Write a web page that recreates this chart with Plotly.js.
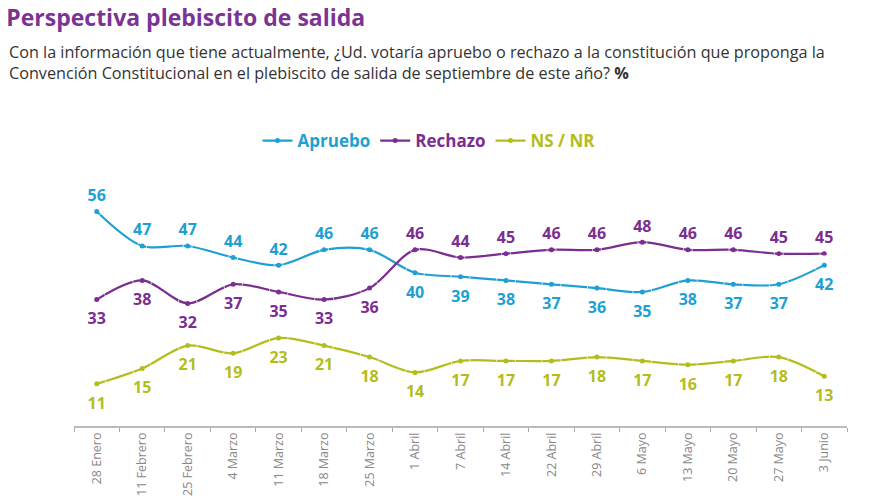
<!DOCTYPE html>
<html><head><meta charset="utf-8">
<script src="https://cdn.plot.ly/plotly-3.0.1.min.js"></script>
<style>html,body{margin:0;padding:0;background:#fff}#chart{width:894px;height:501px}</style>
</head><body><div id="chart"></div>
<script>
const categories = ["28 Enero","11 Febrero","25 Febrero","4 Marzo","11 Marzo","18 Marzo","25 Marzo","1 Abril","7 Abril","14 Abril","22 Abril","29 Abril","6 Mayo","13 Mayo","20 Mayo","27 Mayo","3 Junio"];
const apruebo = [56,47,47,44,42,46,46,40,39,38,37,36,35,38,37,37,42];
const rechazo = [33,38,32,37,35,33,36,46,44,45,46,46,48,46,46,45,45];
const nsnr    = [11,15,21,19,23,21,18,14,17,17,17,18,17,16,17,18,13];
const aprueboPos = ["top center","top center","top center","top center","top center","top center","top center","bottom center","bottom center","bottom center","bottom center","bottom center","bottom center","bottom center","bottom center","bottom center","bottom center"];
const rechazoPos = ["bottom center","bottom center","bottom center","bottom center","bottom center","bottom center","bottom center","top center","top center","top center","top center","top center","top center","top center","top center","top center","top center"];
const nsPos = categories.map(()=> "bottom center");

const cA = "#1ea0d2", cR = "#7b2e8f", cN = "#b3bd1b";
function tr(name, y, col){
  return {
    type:"scatter", mode:"lines+markers", x:categories, y:y,
    name:'<b><span style="color:'+col+'">'+name+'</span></b>',
    line:{color:col, width:2.2, shape:"spline", smoothing:0.9},
    marker:{color:col, size:5},
    cliponaxis:false, hoverinfo:"skip"
  };
}
function lab(y, col, pos){
  return {
    type:"scatter", mode:"markers+text", x:categories, y:y, showlegend:false,
    marker:{color:"rgba(0,0,0,0)", size:pos.map(p => p.indexOf("top")===0 ? 9 : 19)},
    text:y.map(String), textposition:pos,
    textfont:{color:col, size:16, family:"Open Sans", weight:700},
    cliponaxis:false, hoverinfo:"skip"
  };
}
const data = [
  tr("Apruebo", apruebo, cA), tr("Rechazo", rechazo, cR), tr("NS / NR", nsnr, cN),
  lab(apruebo, cA, aprueboPos), lab(rechazo, cR, rechazoPos), lab(nsnr, cN, nsPos)
];

const layout = {
  width:894, height:501,
  paper_bgcolor:"#fff", plot_bgcolor:"#fff",
  margin:{l:74, r:47, t:170, b:75},
  font:{family:"Open Sans", color:"#333"},
  title:{text:"<b>Perspectiva plebiscito de salida</b>", x:0.007, xref:"container", xanchor:"left", y:0.98, yref:"container", yanchor:"top",
         font:{size:23, color:"#7b3394", family:"Open Sans"}},
  annotations:[{
    text:"Con la información que tiene actualmente, ¿Ud. votaría apruebo o rechazo a la constitución que proponga la<br>Convención Constitucional en el plebiscito de salida de septiembre de este año? <b>%</b>",
    xref:"paper", yref:"paper", x:-67/773, y:(426-39)/256, xanchor:"left", yanchor:"top", align:"left", showarrow:false,
    font:{size:16.2, color:"#333", family:"Open Sans"}
  }],
  showlegend:true,
  legend:{orientation:"h", x:(429-74)/773, xanchor:"center", y:(426-141)/256, yanchor:"middle",
          font:{size:17, family:"Open Sans"}, itemwidth:30, tracegroupgap:0, bgcolor:"rgba(0,0,0,0)"},
  xaxis:{type:"category", tickson:"boundaries", ticks:"outside", ticklen:4, tickcolor:"#aaa",
         showline:true, linecolor:"#bbb", linewidth:1.5, showgrid:false, zeroline:false,
         tickangle:-90, tickfont:{size:12.5, color:"#888", family:"Open Sans"}, range:[-0.5,16.5], fixedrange:true},
  yaxis:{range:[0,(426-170)/3.83], visible:false, showgrid:false, zeroline:false, fixedrange:true}
};
Plotly.newPlot("chart", data, layout, {displayModeBar:false, staticPlot:true});
</script></body></html>
